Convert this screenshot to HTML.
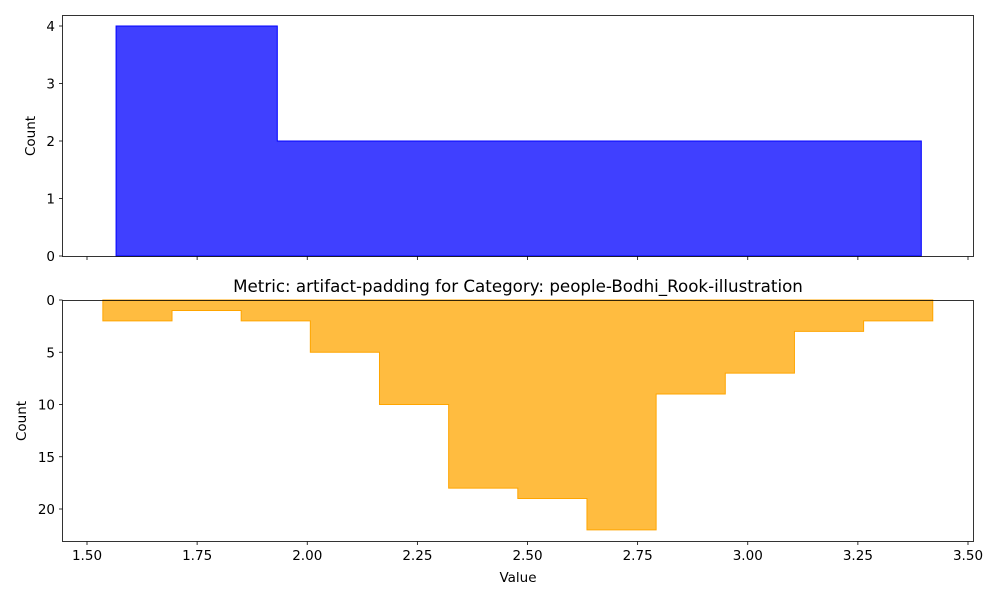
<!DOCTYPE html>
<html><head><meta charset="utf-8"><style>
body{margin:0;background:#fff;font-family:"Liberation Sans","DejaVu Sans",sans-serif}
svg text{font-family:"DejaVu Sans","Liberation Sans",sans-serif;font-size:13.5px;fill:#000}
</style></head><body>
<svg id="c" width="1000" height="600"></svg>
<script>
const topEdges=[1.566,1.932,2.298,2.664,3.030,3.394];
const topCounts=[4,2,2,2,2];
const botEdges=[1.536,1.693,1.850,2.007,2.164,2.321,2.478,2.635,2.792,2.949,3.106,3.263,3.420];
const botCounts=[2,1,2,5,10,18,19,22,9,7,3,2];
const xTicks=[1.5,1.75,2.0,2.25,2.5,2.75,3.0,3.25,3.5];
const xTickLabels=["1.50","1.75","2.00","2.25","2.50","2.75","3.00","3.25","3.50"];
const topYTicks=[0,1,2,3,4];
const botYTicks=[0,5,10,15,20];
const NS="http://www.w3.org/2000/svg";
const svg=document.getElementById('c');
function el(t,a,p){const e=document.createElementNS(NS,t);for(const k in a)e.setAttribute(k,a[k]);(p||svg).appendChild(e);return e;}
const X=v=>87+(v-1.5)*440.5;
const Yt=v=>256-v*57.5;
const Yb=v=>300+v*10.45;
function steps(edges,counts,Y){
  let d=`M${X(edges[0])},${Y(0)}`;
  counts.forEach((c,i)=>{d+=` L${X(edges[i])},${Y(c)} L${X(edges[i+1])},${Y(c)}`;});
  d+=` L${X(edges[edges.length-1])},${Y(0)}`;return d;
}
let p=el('path',{d:steps(topEdges,topCounts,Yt)+' Z',fill:'rgba(0,0,255,0.75)',stroke:'#0000ff','stroke-width':1});


p=el('path',{d:steps(botEdges,botCounts,Yb)+' Z',fill:'rgba(255,165,0,0.75)',stroke:'#ffa500','stroke-width':1});


let r=el('rect',{x:62.5,y:15.5,width:911,height:241,fill:'none',stroke:'#000','stroke-width':0.8});


r=el('rect',{x:62.5,y:300.5,width:911,height:241,fill:'none',stroke:'#000','stroke-width':0.8});


xTicks.forEach((v,i)=>{
  el('line',{x1:X(v),x2:X(v),y1:256.5,y2:260,stroke:'#000','stroke-width':0.8});
  el('line',{x1:X(v),x2:X(v),y1:541.5,y2:545,stroke:'#000','stroke-width':0.8});
  const t=el('text',{x:X(v),y:560,'text-anchor':'middle'});t.textContent=xTickLabels[i];
  
  
});
topYTicks.forEach(v=>{
  el('line',{x1:59,x2:62.5,y1:Yt(v),y2:Yt(v),stroke:'#000','stroke-width':0.8});
  const t=el('text',{x:55,y:Yt(v)+5,'text-anchor':'end'});t.textContent=v;
  
  
});
botYTicks.forEach(v=>{
  el('line',{x1:59,x2:62.5,y1:Yb(v),y2:Yb(v),stroke:'#000','stroke-width':0.8});
  const t=el('text',{x:55,y:Yb(v)+5,'text-anchor':'end'});t.textContent=v;
  
  
});
let t=el('text',{x:35,y:136,'text-anchor':'middle',transform:'rotate(-90 35 136)'});t.textContent='Count';


t=el('text',{x:26,y:421,'text-anchor':'middle',transform:'rotate(-90 26 421)'});t.textContent='Count';


t=el('text',{x:518,y:582,'text-anchor':'middle'});t.textContent='Value';


t=el('text',{x:518,y:292,'text-anchor':'middle',style:'font-size:16.7px'});t.textContent='Metric: artifact-padding for Category: people-Bodhi_Rook-illustration';


</script>
</body></html>
